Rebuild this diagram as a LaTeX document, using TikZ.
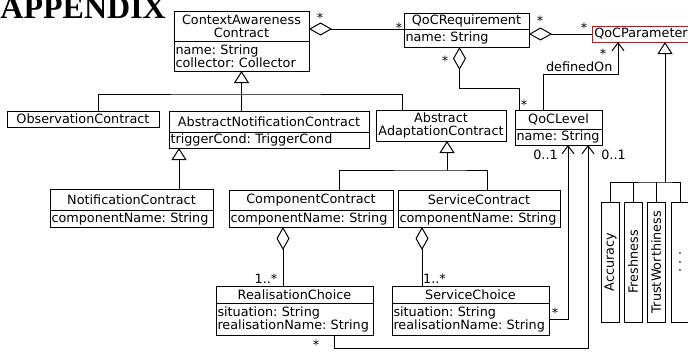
\documentclass[tikz,border=0pt]{standalone}
\usepackage{fontspec}
\usepackage{tikz}
\usetikzlibrary{arrows.meta,positioning}
\newfontfamily\umlfont{DejaVu Sans}
\newfontfamily\headfont{Liberation Serif}
\frenchspacing

\tikzset{
  cls/.style={draw, inner xsep=1.5pt, inner ysep=1pt, outer sep=0pt, anchor=north west,
    font=\umlfont\fontsize{12.8}{13}\selectfont, align=center},
  attr/.style={cls, align=left},
  kind/.style={cls, anchor=center, rotate=90, minimum width=120pt, minimum height=18pt, inner sep=0pt},
  mult/.style={font=\umlfont\fontsize{12.8}{13}\selectfont, inner sep=0pt},
  gen/.style={-{Triangle[open, length=12pt, width=15pt]}},
  agg/.style={{Diamond[open, length=23pt, width=13pt]}-},
  nav/.style={-{Straight Barb[length=8pt, width=12pt]}}
}

\begin{document}
\begin{tikzpicture}[x=1pt, y=-1pt, line width=1pt]
  \useasboundingbox (0,0) rectangle (688,351);
  % Heading, cut at the top
  \node[anchor=base west, inner sep=0pt, font=\headfont\bfseries\fontsize{32}{32}\selectfont] (head) at (0,18) {APPENDIX};

  % Draw the classes
  \node[cls, text width=132pt, minimum height=30pt] (cac) at (174,11) {ContextAwareness\\Contract};
  \node[attr, below=0pt of cac, text width=132pt, minimum height=30pt] (cacattr) {name: String\\collector: Collector};
  \node[cls, text width=122pt, minimum height=16pt] (req) at (404,13) {QoCRequirement};
  \node[attr, below=0pt of req, text width=122pt, minimum height=18pt] (reqattr) {name: String};
  \node[cls, draw=red, text width=95pt, minimum height=16pt] (par) at (592,26) {QoCParameter};
  \node[cls, text width=149pt, minimum height=16pt] (obs) at (7,111) {ObservationContract};
  \node[cls, text width=197pt, minimum height=21pt] (anc) at (169,111) {AbstractNotificationContract};
  \node[attr, below=0pt of anc, text width=197pt, minimum height=16pt] (ancattr) {triggerCond: TriggerCond};
  \node[cls, text width=127pt, minimum height=31pt] (aac) at (376,110) {Abstract\\AdaptationContract};
  \node[cls, text width=84pt, minimum height=19pt] (lev) at (515,110) {QoCLevel};
  \node[attr, below=0pt of lev, text width=84pt, minimum height=16pt] (levattr) {name: String};
  \node[cls, text width=160pt, minimum height=21pt] (noc) at (50,189) {NotificationContract};
  \node[attr, below=0pt of noc, text width=160pt, minimum height=17pt] (nocattr) {componentName: String};
  \node[cls, text width=161pt, minimum height=20pt] (coc) at (229,190) {ComponentContract};
  \node[attr, below=0pt of coc, text width=161pt, minimum height=17pt] (cocattr) {componentName: String};
  \node[cls, text width=159pt, minimum height=20pt] (svc) at (398,190) {ServiceContract};
  \node[attr, below=0pt of svc, text width=159pt, minimum height=17pt] (svcattr) {componentName: String};
  \node[cls, text width=154pt, minimum height=17pt] (rch) at (216,286) {RealisationChoice};
  \node[attr, below=0pt of rch, text width=154pt, minimum height=32pt] (rchattr) {situation: String\\realisationName: String};
  \node[cls, text width=154pt, minimum height=17pt] (sch) at (392,286) {ServiceChoice};
  \node[attr, below=0pt of sch, text width=154pt, minimum height=32pt] (schattr) {situation: String\\realisationName: String};

  % QoC parameter kinds
  \node[kind] (acc) at (610.5,262) {Accuracy};
  \node[kind] (fre) at (633,262) {Freshness};
  \node[kind] (trw) at (656,262) {TrustWorthiness};
  \node[kind] (dts) at (680,262) {. . .};

  % Aggregations
  \draw[agg] (cac.east |- reqattr.north) -- (reqattr.north west)
    node[mult, at start, xshift=11pt, yshift=11pt] {*}
    node[mult, at end, xshift=-5pt, yshift=1pt] {*};
  \draw[agg] (req.east |- par.west) -- (par.west)
    node[mult, at start, xshift=11pt, yshift=13pt] {*}
    node[mult, at end, xshift=-8pt, yshift=6pt] {*};
  \coordinate (aR) at ([xshift=-7pt]reqattr.south);
  \coordinate (aL) at ([xshift=4pt]lev.north west);
  \draw[agg] (aR) -- ++(0,41) -| (aL);
  \node[mult, xshift=-14.5pt, yshift=-14pt] at (aR) {*};
  \node[mult, xshift=5pt, yshift=5pt] at (aL) {*};
  \coordinate (aC) at ([xshift=-28pt]cocattr.south);
  \draw[agg] (aC) -- (aC |- rch.north)
    node[mult, at end, xshift=-17pt, yshift=7pt] {1..*};
  \coordinate (aS) at ([xshift=-57pt]svcattr.south);
  \draw[agg] (aS) -- (aS |- sch.north)
    node[mult, at end, xshift=12.5pt, yshift=7pt] {1..*};

  % definedOn
  \coordinate (dL) at ([xshift=-15pt]lev.north);
  \coordinate (dP) at ([xshift=26pt]par.south west);
  \draw[nav] (dL) -- ++(0,-36) node[mult, anchor=south west, inner sep=2pt] {definedOn} -| (dP)
    node[mult, at end, xshift=-15pt, yshift=-12pt] {*};

  % Navigable associations to QoCLevel
  \coordinate (nS) at ([xshift=9.5pt]levattr.south);
  \coordinate (nR) at ([xshift=29.5pt]levattr.south);
  \draw[nav] (schattr.east) -| (nS)
    node[mult, at start, xshift=6pt, yshift=6pt] {*}
    node[mult, at end, xshift=-22.5pt, yshift=-10pt] {0..1};
  \coordinate (rB) at ([xshift=39.5pt]rchattr.south);
  \draw[nav] (rB) -- ++(0,13) -| (nR)
    node[mult, at end, xshift=25.5pt, yshift=-10pt] {0..1};
  \node[mult, xshift=-18pt, yshift=-9.5pt] at (rB) {*};

  % Generalisations
  \coordinate (cbar) at ([yshift=-23pt]cacattr.south);
  \draw[gen] (cbar |- anc.north) -- (cacattr.south);
  \draw ([xshift=15pt]obs.north) |- (cbar) -| ([xshift=-39pt]aac.north);
  \coordinate (gA) at ([xshift=10pt]ancattr.south west);
  \draw[gen] (gA |- noc.north) -- (gA);
  \coordinate (gB) at ([xshift=6pt]aac.south);
  \coordinate (abar) at ([yshift=-29pt]gB);
  \draw[gen] (abar) -- (gB);
  \draw ([xshift=28pt]coc.north) |- (abar) -| ([xshift=8pt]svc.north);
  \coordinate (gP) at ([xshift=24pt]par.south);
  \coordinate (pbar) at ([yshift=-140pt]gP);
  \draw[gen] (pbar) -- (gP);
  \draw (acc.east) |- (pbar) -| (dts.east);
  \draw (fre.east) -- (fre.east |- pbar);
  \draw (trw.east) -- (trw.east |- pbar);
\end{tikzpicture}
\end{document}
